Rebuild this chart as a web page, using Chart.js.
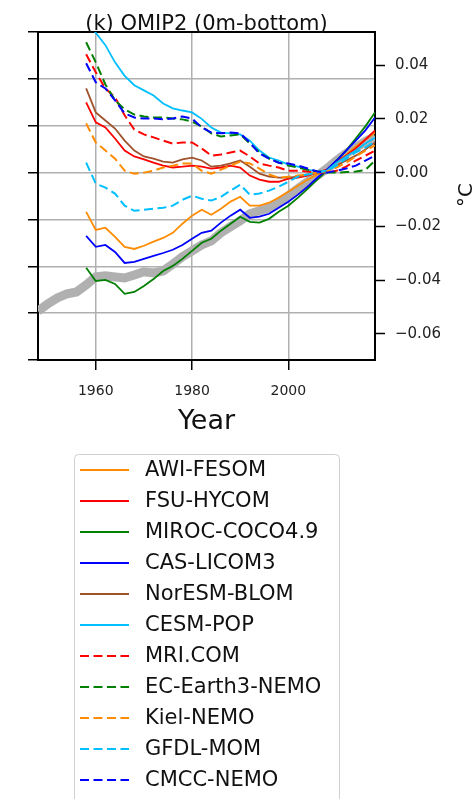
<!DOCTYPE html>
<html>
<head>
<meta charset="utf-8">
<script src="https://cdn.jsdelivr.net/npm/chart.js@4.4.1/dist/chart.umd.min.js"></script>
<style>
  html, body { margin: 0; padding: 0; background: #ffffff; }
  canvas { display: block; }
</style>
</head>
<body>
<canvas id="chart" width="472" height="799"></canvas>
<script>
// Global-mean temperature anomaly, 0 m to bottom (°C)
const modelYears = [1958,1960,1962,1964,1966,1968,1970,1972,1974,1976,1978,1980,1982,1984,1986,1988,
                    1990,1992,1994,1996,1998,2000,2002,2004,2006,2008,2010,2012,2014,2016,2018];
const obsYears = [1948,1950,1952,1954,1956,1958,1960,1962,1964,1966,1968,1970,1972,1974,1976,1978,1980,1982,
                  1984,1986,1988,1990,1992,1994,1996,1998,2000,2002,2004,2006,2008,2010,2012,2014,2016,2018];

const obsValues = [-0.0515,-0.0489,-0.0466,-0.0451,-0.0444,-0.0418,-0.0388,-0.0384,-0.0388,-0.0392,-0.0381,-0.0369,
                   -0.0373,-0.0366,-0.0340,-0.0313,-0.0291,-0.0269,-0.0254,-0.0224,-0.0201,-0.0179,-0.0153,-0.0142,
                   -0.0131,-0.0112,-0.0086,-0.0060,-0.0034,-0.0011,0.0015,0.0045,0.0071,0.0093,0.0116,0.0134];

const awiFesom = [-0.0146,-0.0213,-0.0205,-0.0239,-0.0276,-0.0284,-0.0272,-0.0257,-0.0243,-0.0224,-0.0190,-0.0160,
                  -0.0138,-0.0157,-0.0134,-0.0108,-0.0090,-0.0123,-0.0123,-0.0112,-0.0093,-0.0071,-0.0049,-0.0026,
                  -0.0007,0.0007,0.0037,0.0067,0.0097,0.0123,0.0149];
const fsuHycom = [0.0261,0.0187,0.0168,0.0127,0.0082,0.0060,0.0049,0.0037,0.0026,0.0019,0.0022,0.0026,0.0022,0.0015,
                  0.0019,0.0026,0.0019,-0.0011,-0.0026,-0.0034,-0.0034,-0.0022,-0.0019,-0.0011,0.0000,0.0011,0.0041,
                  0.0063,0.0090,0.0123,0.0157];
const mirocCoco = [-0.0354,-0.0403,-0.0399,-0.0414,-0.0451,-0.0444,-0.0422,-0.0396,-0.0366,-0.0347,-0.0321,-0.0291,
                   -0.0261,-0.0246,-0.0216,-0.0190,-0.0164,-0.0183,-0.0186,-0.0172,-0.0146,-0.0123,-0.0093,-0.0060,
                   -0.0026,0.0007,0.0045,0.0082,0.0127,0.0172,0.0224];
const casLicom = [-0.0235,-0.0276,-0.0269,-0.0295,-0.0336,-0.0332,-0.0321,-0.0310,-0.0299,-0.0287,-0.0269,-0.0246,
                  -0.0224,-0.0216,-0.0186,-0.0160,-0.0138,-0.0168,-0.0164,-0.0153,-0.0131,-0.0108,-0.0082,-0.0052,
                  -0.0019,0.0011,0.0045,0.0082,0.0119,0.0157,0.0205];
const norEsmBlom = [0.0313,0.0224,0.0194,0.0164,0.0119,0.0082,0.0060,0.0052,0.0041,0.0037,0.0049,0.0056,0.0045,0.0022,
                    0.0026,0.0034,0.0045,0.0022,-0.0004,-0.0015,-0.0019,-0.0019,-0.0015,-0.0007,0.0000,0.0007,0.0026,
                    0.0045,0.0063,0.0086,0.0112];
const cesmPop = [0.0570,0.0520,0.0474,0.0410,0.0360,0.0325,0.0306,0.0287,0.0257,0.0239,0.0231,0.0224,0.0200,0.0168,
                 0.0149,0.0146,0.0142,0.0119,0.0082,0.0056,0.0045,0.0030,0.0022,0.0011,0.0004,0.0007,0.0037,0.0060,
                 0.0082,0.0108,0.0130];
const mriCom = [0.0440,0.0373,0.0313,0.0280,0.0213,0.0160,0.0142,0.0131,0.0119,0.0108,0.0112,0.0112,0.0090,0.0063,
                0.0067,0.0075,0.0082,0.0060,0.0034,0.0026,0.0019,0.0007,0.0007,0.0004,0.0000,0.0000,0.0007,0.0022,
                0.0045,0.0063,0.0082];
const ecEarthNemo = [0.0485,0.0410,0.0328,0.0269,0.0235,0.0216,0.0209,0.0205,0.0205,0.0201,0.0198,0.0190,0.0172,0.0146,
                     0.0134,0.0138,0.0142,0.0108,0.0075,0.0052,0.0037,0.0026,0.0019,0.0011,0.0004,0.0000,0.0000,0.0002,
                     0.0004,0.0010,0.0045];
const kielNemo = [0.0183,0.0112,0.0082,0.0052,0.0007,-0.0004,0.0000,0.0007,0.0019,0.0026,0.0034,0.0034,0.0007,-0.0004,
                  0.0011,0.0026,0.0041,0.0034,0.0015,-0.0007,-0.0019,-0.0015,-0.0011,-0.0007,0.0000,0.0004,0.0019,
                  0.0037,0.0060,0.0082,0.0101];
const gfdlMom = [0.0037,-0.0041,-0.0056,-0.0078,-0.0123,-0.0142,-0.0138,-0.0134,-0.0131,-0.0123,-0.0101,-0.0086,
                 -0.0097,-0.0104,-0.0090,-0.0067,-0.0045,-0.0082,-0.0078,-0.0067,-0.0052,-0.0034,-0.0015,-0.0007,
                 0.0000,0.0007,0.0026,0.0052,0.0075,0.0093,0.0116];
const cmccNemo = [0.0407,0.0336,0.0313,0.0269,0.0220,0.0205,0.0201,0.0201,0.0198,0.0201,0.0209,0.0201,0.0168,0.0149,
                  0.0146,0.0149,0.0146,0.0112,0.0071,0.0052,0.0037,0.0034,0.0026,0.0015,0.0004,0.0000,0.0007,0.0015,
                  0.0026,0.0045,0.0063];

const seriesNames = ['AWI-FESOM','FSU-HYCOM','MIROC-COCO4.9','CAS-LICOM3','NorESM-BLOM','CESM-POP',
                     'MRI.COM','EC-Earth3-NEMO','Kiel-NEMO','GFDL-MOM','CMCC-NEMO'];
const seriesValues = [awiFesom, fsuHycom, mirocCoco, casLicom, norEsmBlom, cesmPop,
                      mriCom, ecEarthNemo, kielNemo, gfdlMom, cmccNemo];
const seriesColors = ['#ff8c00','#ff0000','#008000','#0000ff','#a0522d','#00bfff',
                      '#ff0000','#008000','#ff8c00','#00bfff','#0000ff'];
const seriesDashed = [false,false,false,false,false,false,true,true,true,true,true];

const xTickYears = [1960, 1980, 2000];
const tempTicks = [-0.06, -0.04, -0.02, 0.00, 0.02, 0.04];
const gridSteps = [-4, -3, -2, -1, 0, 1, 2, 3];

const FONT = 'DejaVu Sans';
const DASH = [9, 4.5];
const n = seriesNames.length;

const datasets = [{
  label: '',
  data: obsYears.map((yr, i) => ({ x: yr, y: obsValues[i] })),
  xAxisID: 'x',
  yAxisID: 'y',
  borderColor: '#b0b0b0',
  borderWidth: 9,
  borderCapStyle: 'butt',
  order: n + 1,
  clip: 0
}];
seriesNames.forEach((name, k) => {
  datasets.push({
    label: name,
    data: modelYears.map((yr, i) => ({ x: yr, y: seriesValues[k][i] })),
    xAxisID: 'x',
    yAxisID: 'y',
    borderColor: seriesColors[k],
    borderWidth: seriesDashed[k] ? 2 : 1.8,
    borderDash: seriesDashed[k] ? DASH : [],
    order: n - k,
    clip: 0
  });
});

function fmtTemp(v) {
  const s = Math.abs(v).toFixed(2);
  return (v < -1e-9 ? '\u2212' : '') + s;
}

// Title, rotated unit label and the boxed legend under the axes
const decorations = {
  id: 'decorations',
  afterDraw(chart) {
    const ctx = chart.ctx;
    const area = chart.chartArea;
    ctx.save();
    ctx.fillStyle = '#111';
    ctx.font = `21px "${FONT}"`;
    ctx.textAlign = 'center';
    ctx.textBaseline = 'alphabetic';
    ctx.fillText('(k) OMIP2 (0m-bottom)', (area.left + area.right) / 2, 30);

    ctx.save();
    ctx.translate(472, 195);
    ctx.rotate(-Math.PI / 2);
    ctx.font = `20px "${FONT}"`;
    ctx.textAlign = 'center';
    ctx.textBaseline = 'alphabetic';
    ctx.fillText('°C', 0, 0);
    ctx.restore();

    const box = { x: 74, y: 454, w: 265, h: 360 };
    ctx.beginPath();
    ctx.roundRect(box.x + 0.5, box.y + 0.5, box.w, box.h, 4);
    ctx.fillStyle = 'rgba(255,255,255,0.8)';
    ctx.fill();
    ctx.strokeStyle = '#d0d0d0';
    ctx.lineWidth = 1;
    ctx.stroke();

    const items = chart.data.datasets.filter(d => d.label);
    items.forEach((d, i) => {
      const cy = 470 + i * 31.0;
      ctx.beginPath();
      ctx.setLineDash(d.borderDash || []);
      ctx.strokeStyle = d.borderColor;
      ctx.lineWidth = d.borderWidth;
      ctx.moveTo(80, cy);
      ctx.lineTo(129, cy);
      ctx.stroke();
      ctx.setLineDash([]);
      ctx.fillStyle = '#111';
      ctx.font = `21px "${FONT}"`;
      ctx.textAlign = 'left';
      ctx.textBaseline = 'middle';
      ctx.fillText(d.label, 145, cy + 1);
    });
    ctx.restore();
  }
};

const gridStyle = { color: '#b0b0b0', lineWidth: 1.5, tickColor: '#000', tickLength: 10, tickWidth: 1.5 };

new Chart(document.getElementById('chart'), {
  type: 'line',
  data: { datasets },
  options: {
    responsive: false,
    animation: false,
    devicePixelRatio: 1,
    layout: { padding: { top: 32, bottom: 359, left: 0, right: 0 } },
    elements: { point: { radius: 0 }, line: { tension: 0 } },
    plugins: { legend: { display: false }, tooltip: { enabled: false }, title: { display: false } },
    scales: {
      x: {
        type: 'linear', position: 'bottom', min: 1948, max: 2018,
        afterBuildTicks: s => { s.ticks = xTickYears.map(v => ({ value: v })); },
        afterFit: s => { s.height = 80; },
        grid: gridStyle,
        border: { color: '#000', width: 2 },
        ticks: { font: { family: FONT, size: 14 }, color: '#222', padding: 13, maxRotation: 0, callback: v => String(v) },
        title: { display: true, text: 'Year', font: { family: FONT, size: 27 }, color: '#111', padding: { top: 0, bottom: 2 } }
      },
      xTop: {
        type: 'linear', position: 'top', min: 1948, max: 2018,
        afterFit: s => { s.height = 0; },
        ticks: { display: false },
        grid: { display: false, drawTicks: false },
        border: { display: true, color: '#000', width: 2 }
      },
      yGrid: {
        type: 'linear', position: 'left', min: -4, max: 3,
        afterBuildTicks: s => { s.ticks = gridSteps.map(v => ({ value: v })); },
        afterFit: s => { s.width = 38; },
        ticks: { display: false },
        grid: gridStyle,
        border: { color: '#000', width: 2 }
      },
      y: {
        type: 'linear', position: 'right', min: -0.0697, max: 0.0523,
        afterBuildTicks: s => { s.ticks = tempTicks.map(v => ({ value: v })); },
        afterFit: s => { s.width = 97; },
        grid: { drawOnChartArea: false, tickColor: '#000', tickLength: 10, tickWidth: 1.5 },
        border: { color: '#000', width: 2 },
        ticks: { font: { family: FONT, size: 15 }, color: '#222', padding: 10, callback: v => fmtTemp(v) }
      }
    }
  },
  plugins: [decorations]
});
</script>
</body>
</html>
